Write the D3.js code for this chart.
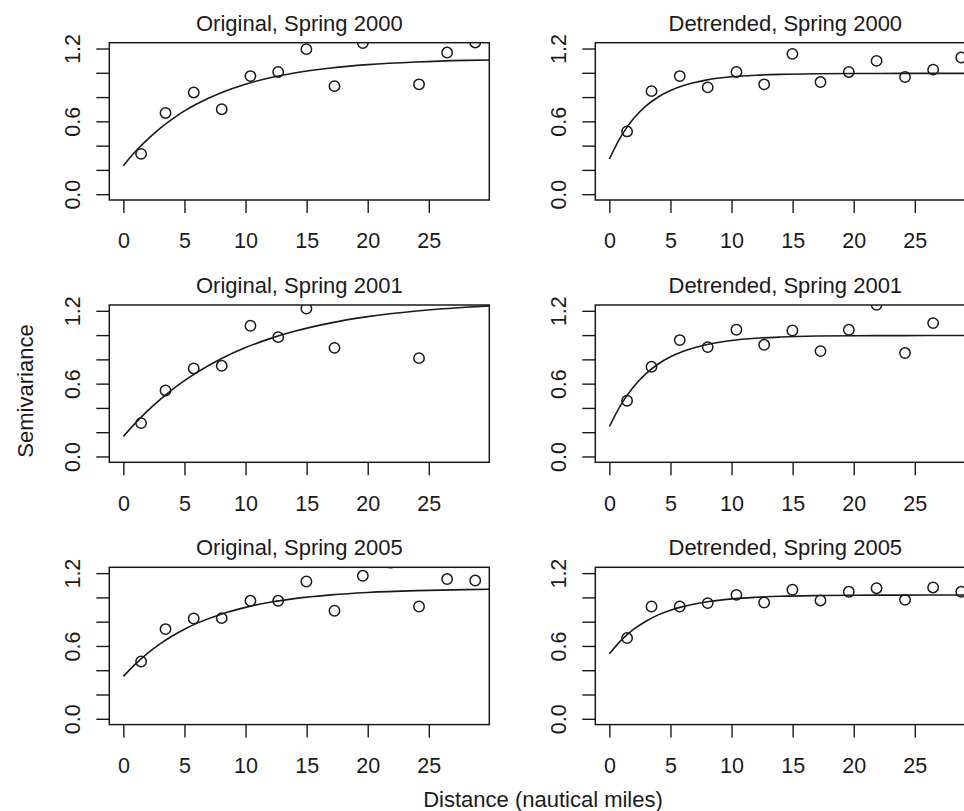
<!DOCTYPE html>
<html>
<head>
<meta charset="utf-8">
<script src="https://cdn.jsdelivr.net/npm/d3@7"></script>
<style>
  body { margin: 0; background: #fff; }
  svg { display: block; font-family: "Liberation Sans", Arial, Helvetica, sans-serif; }
</style>
</head>
<body>
<svg id="semivar" width="964" height="811"></svg>
<script>
// lag bins (nautical miles), shared by all panels
const lagBins = [1.45, 3.45, 5.76, 8.05, 10.4, 12.67, 14.98, 17.28, 19.6, 21.87, 24.2, 26.5, 28.8];

// empirical semivariance per panel (null = off the top of the plot)
const semiOrig2000 = [0.332, 0.669, 0.838, 0.700, 0.973, 1.007, 1.195, 0.890, 1.245, null, 0.905, 1.167, 1.25];
const semiDetr2000 = [0.517, 0.849, 0.973, 0.880, 1.007, 0.905, 1.156, 0.924, 1.007, 1.098, 0.965, 1.026, 1.126];
const semiOrig2001 = [0.275, 0.544, 0.725, 0.747, 1.077, 0.983, 1.219, 0.895, null, null, 0.810, null, null];
const semiDetr2001 = [0.459, 0.739, 0.959, 0.901, 1.044, 0.920, 1.038, 0.868, 1.044, 1.25, 0.852, 1.099, null];
const semiOrig2005 = [0.472, 0.739, 0.826, 0.829, 0.972, 0.972, 1.131, 0.890, 1.178, 1.287, 0.925, 1.151, 1.139];
const semiDetr2005 = [0.665, 0.925, 0.925, 0.953, 1.021, 0.958, 1.063, 0.975, 1.046, 1.076, 0.980, 1.082, 1.046];

// fitted model curve at these distances
const fitLag = [0, 1, 2, 3, 4, 5, 6, 8, 10, 12, 14, 17, 20, 24, 28, 30];
const fitOrig2000 = [0.235, 0.353, 0.454, 0.543, 0.619, 0.686, 0.743, 0.836, 0.906, 0.959, 0.999, 1.040, 1.067, 1.089, 1.102, 1.106];
const fitDetr2000 = [0.290, 0.484, 0.625, 0.727, 0.801, 0.854, 0.893, 0.942, 0.967, 0.980, 0.987, 0.992, 0.994, 0.995, 0.995, 0.995];
const fitOrig2001 = [0.165, 0.277, 0.378, 0.469, 0.551, 0.625, 0.691, 0.805, 0.897, 0.971, 1.031, 1.101, 1.152, 1.199, 1.230, 1.241];
const fitDetr2001 = [0.247, 0.436, 0.577, 0.683, 0.762, 0.821, 0.865, 0.923, 0.956, 0.974, 0.984, 0.992, 0.995, 0.996, 0.997, 0.997];
const fitOrig2005 = [0.349, 0.452, 0.541, 0.617, 0.682, 0.738, 0.786, 0.862, 0.918, 0.960, 0.990, 1.021, 1.041, 1.056, 1.064, 1.067];
const fitDetr2005 = [0.535, 0.650, 0.738, 0.804, 0.856, 0.894, 0.924, 0.964, 0.988, 1.001, 1.009, 1.015, 1.018, 1.019, 1.020, 1.020];

const panelTitles = [
  'Original, Spring 2000', 'Detrended, Spring 2000',
  'Original, Spring 2001', 'Detrended, Spring 2001',
  'Original, Spring 2005', 'Detrended, Spring 2005'
];

const xTicks = [0, 5, 10, 15, 20, 25];
const yTicks = [0, 0.2, 0.4, 0.6, 0.8, 1.0, 1.2];
const yLabelled = [0, 0.6, 1.2];

const panels = [
  { semi: semiOrig2000, fit: fitOrig2000 },
  { semi: semiDetr2000, fit: fitDetr2000 },
  { semi: semiOrig2001, fit: fitOrig2001 },
  { semi: semiDetr2001, fit: fitDetr2001 },
  { semi: semiOrig2005, fit: fitOrig2005 },
  { semi: semiDetr2005, fit: fitDetr2005 }
];

const svg = d3.select('#semivar');
const ink = '#1a1a1a';

const colLeft = [109.3, 595.3];
const rowTop = [42.7, 305, 567.3];
const boxW = 380;
const boxH = 157.3;

const xScale = d3.scaleLinear().domain([-1.152, 29.952]).range([0, boxW]);
const yScale = d3.scaleLinear().domain([-0.048, 1.248]).range([boxH, 0]);

const fitLine = d3.line()
  .x(d => xScale(d[0]))
  .y(d => yScale(d[1]))
  .curve(d3.curveMonotoneX);

panels.forEach((p, i) => {
  const col = i % 2;
  const row = Math.floor(i / 2);
  const g = svg.append('g')
    .attr('transform', `translate(${colLeft[col]},${rowTop[row]})`);

  const clipId = `clip-${i}`;
  g.append('clipPath').attr('id', clipId)
    .append('rect').attr('width', boxW).attr('height', boxH);

  // axes
  const yAxisG = g.append('g')
    .style('color', ink)
    .call(d3.axisLeft(yScale)
      .tickValues(yTicks)
      .tickSize(13)
      .tickFormat(d => yLabelled.includes(d) ? d3.format('.1f')(d) : ''));
  yAxisG.select('.domain').remove();
  yAxisG.selectAll('.tick line').attr('stroke-width', 1.4);
  yAxisG.selectAll('.tick text')
    .attr('font-size', 21.5)
    .attr('font-family', null)
    .attr('transform', 'rotate(-90)')
    .attr('x', 0)
    .attr('y', -29.5)
    .attr('dy', 0)
    .attr('text-anchor', 'middle');

  const xAxisG = g.append('g')
    .attr('transform', `translate(0,${boxH})`)
    .style('color', ink)
    .call(d3.axisBottom(xScale)
      .tickValues(xTicks)
      .tickSize(13)
      .tickPadding(20)
      .tickFormat(d3.format('d')));
  xAxisG.select('.domain').remove();
  xAxisG.selectAll('.tick line').attr('stroke-width', 1.4);
  xAxisG.selectAll('.tick text')
    .attr('font-size', 21.5)
    .attr('font-family', null);

  const plot = g.append('g').attr('clip-path', `url(#${clipId})`);

  plot.append('path')
    .datum(d3.zip(fitLag, p.fit))
    .attr('fill', 'none')
    .attr('stroke', ink)
    .attr('stroke-width', 1.6)
    .attr('d', fitLine);

  plot.selectAll('circle')
    .data(d3.zip(lagBins, p.semi).filter(d => d[1] != null))
    .enter().append('circle')
      .attr('cx', d => xScale(d[0]))
      .attr('cy', d => yScale(d[1]))
      .attr('r', 5.2)
      .attr('fill', 'none')
      .attr('stroke', ink)
      .attr('stroke-width', 1.5);

  g.append('rect')
    .attr('width', boxW)
    .attr('height', boxH)
    .attr('fill', 'none')
    .attr('stroke', ink)
    .attr('stroke-width', 1.5);

  g.append('text')
    .attr('x', boxW / 2)
    .attr('y', -12)
    .attr('text-anchor', 'middle')
    .attr('font-size', 22)
    .attr('fill', ink)
    .text(panelTitles[i]);
});

svg.append('text')
  .attr('transform', 'translate(33,391) rotate(-90)')
  .attr('text-anchor', 'middle')
  .attr('font-size', 22)
  .attr('fill', ink)
  .text('Semivariance');

svg.append('text')
  .attr('x', 543)
  .attr('y', 807)
  .attr('text-anchor', 'middle')
  .attr('font-size', 22)
  .attr('fill', ink)
  .text('Distance (nautical miles)');
</script>
</body>
</html>
